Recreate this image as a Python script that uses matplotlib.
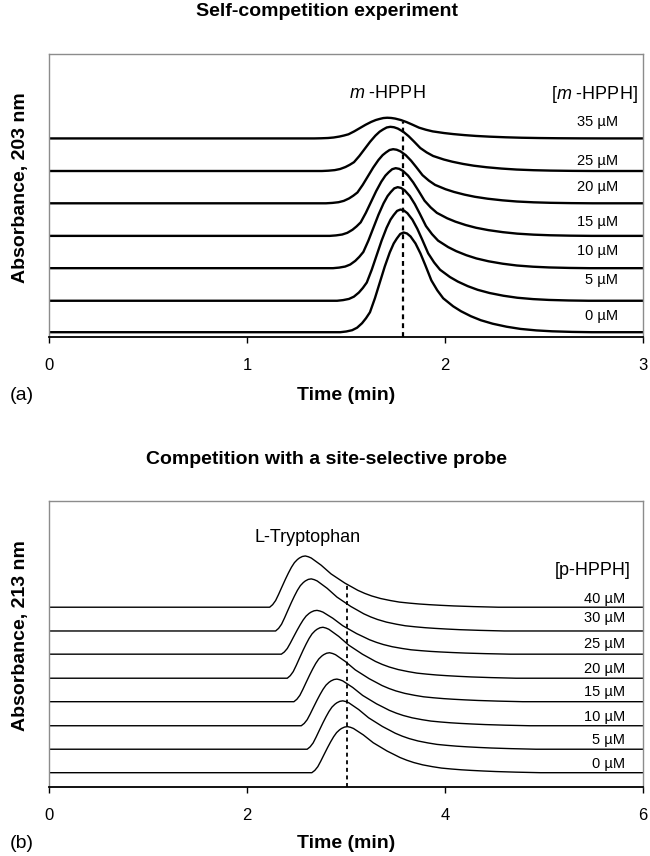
import numpy as np
import matplotlib
matplotlib.use("Agg")
import matplotlib.pyplot as plt

plt.rcParams["font.family"] = ["Liberation Sans", "DejaVu Sans"]
plt.rcParams["mathtext.fontset"] = "custom"
plt.rcParams["mathtext.it"] = "Liberation Sans:italic"
plt.rcParams["mathtext.rm"] = "Liberation Sans"

# ---- panel (a): self-competition, m-HPPH peak ----
conc_a = ["0", "5", "10", "15", "20", "25", "35"]
baseline_a = [1.8, 12.9, 24.4, 35.8, 47.3, 58.7, 70.2]
height_a = [35.2, 32.2, 28.6, 23.9, 19.1, 15.6, 7.3]
peak_time_a = [1.791, 1.775, 1.761, 1.751, 1.738, 1.724, 1.708]
width_a = [1.0, 1.0, 1.02, 1.04, 1.06, 1.08, 1.15]
# peak shape (min from apex, fraction of height)
shape_t_a = [-0.32, -0.29, -0.26, -0.235, -0.21, -0.19, -0.17, -0.145, -0.12, -0.095,
             -0.07, -0.05, -0.034, -0.017, 0.0, 0.017, 0.035, 0.06, 0.085, 0.11,
             0.14, 0.17, 0.20, 0.225, 0.25, 0.29, 0.34, 0.39, 0.45, 0.52,
             0.59, 0.67, 0.75, 0.85, 0.95]
shape_y_a = [0.0, 0.007, 0.02, 0.045, 0.09, 0.14, 0.20, 0.34, 0.50, 0.66,
             0.80, 0.89, 0.94, 0.985, 1.0, 0.99, 0.96, 0.89, 0.79, 0.67,
             0.52, 0.42, 0.34, 0.30, 0.26, 0.21, 0.16, 0.12, 0.085, 0.055,
             0.033, 0.018, 0.009, 0.003, 0.0]
dash_time_a = 1.79

# ---- panel (b): competition with L-tryptophan ----
conc_b = ["0", "5", "10", "15", "20", "25", "30", "40"]
baseline_b = [5.1, 13.3, 21.5, 29.9, 38.1, 46.5, 54.6, 62.9]
height_b = [16.1, 16.9, 16.3, 17.1, 17.8, 15.3, 18.2, 17.9]
peak_time_b = [3.015, 2.968, 2.908, 2.834, 2.767, 2.707, 2.649, 2.589]
shape_t_b = [-0.36, -0.33, -0.30, -0.27, -0.24, -0.20, -0.17, -0.14, -0.11, -0.08,
             -0.06, -0.03, 0.0, 0.03, 0.06, 0.11, 0.16, 0.21, 0.26, 0.33,
             0.40, 0.47, 0.53, 0.60, 0.67, 0.76, 0.86, 0.95, 1.05, 1.15,
             1.25, 1.37, 1.5, 1.7, 1.95]
shape_y_b = [0.0, 0.05, 0.13, 0.25, 0.38, 0.55, 0.67, 0.78, 0.87, 0.93,
             0.96, 0.99, 1.0, 0.985, 0.96, 0.89, 0.82, 0.735, 0.65, 0.56,
             0.47, 0.395, 0.33, 0.27, 0.22, 0.17, 0.13, 0.10, 0.08, 0.063,
             0.05, 0.037, 0.025, 0.012, 0.0]
dash_time_b = 3.01

# label heights (layout)
label_y_a = [7.5, 20.2, 30.5, 40.8, 53.2, 62.3, 76.1]
label_y_b = [8.0, 16.5, 24.7, 33.4, 41.2, 49.9, 59.0, 65.7]

W, H = 650, 856
fig = plt.figure(figsize=(W / 100, H / 100), dpi=100)


def fy(px):
    return 1 - px / H


def style_axes(ax, xmax, ticks):
    ax.set_xlim(0, xmax)
    ax.set_ylim(0, 100)
    ax.set_yticks([])
    ax.set_xticks(ticks)
    ax.set_xticklabels([str(t) for t in ticks])
    for s in ["top", "left", "right"]:
        ax.spines[s].set_color("#8c8c8c")
        ax.spines[s].set_linewidth(1.0)
    ax.spines["bottom"].set_color("black")
    ax.spines["bottom"].set_linewidth(1.3)
    ax.tick_params(axis="x", direction="out", length=4, width=1, pad=11, labelsize=12)


def draw_traces(ax, xmax, base, hgt, tpk, st, sy, widths, lw):
    for i in range(len(base)):
        w = widths[i] if widths is not None else 1.0
        x = [0.0] + [tpk[i] + t * w for t in st] + [xmax]
        y = [base[i]] + [base[i] + hgt[i] * v for v in sy] + [base[i]]
        ax.plot(x, y, color="black", lw=lw, solid_joinstyle="round")


# panel a
ax1 = fig.add_axes([49 / W, fy(337.3), 594 / W, 283.3 / H])
style_axes(ax1, 3, [0, 1, 2, 3])
draw_traces(ax1, 3, baseline_a, height_a, peak_time_a, shape_t_a, shape_y_a, width_a, 1.7)
ax1.plot([dash_time_a, dash_time_a], [0, 76], color="black", lw=1.6, ls=(0, (2.2, 1.8)))
ax1.text(1.708, 86.1, "$m$ -HPPH", ha="center", va="center", fontsize=13)
ax1.text(2.972, 85.8, "[$m$ -HPPH]", ha="right", va="center", fontsize=13)
for c, ly in zip(conc_a, label_y_a):
    ax1.text(2.873, ly, c + " \u00b5M", ha="right", va="center", fontsize=10.5)

fig.text(0.5 + 1.5 / W, fy(12), "Self-competition experiment", ha="center", va="center",
         fontsize=14, fontweight="bold")
fig.text(21 / W, fy(188), "Absorbance, 203 nm", rotation=90, ha="center", va="center",
         fontsize=14, fontweight="bold")
fig.text(346 / W, fy(395), "Time (min)", ha="center", va="center", fontsize=14, fontweight="bold")
fig.text(10 / W, fy(395), "(a)", ha="left", va="center", fontsize=14)

# panel b
ax2 = fig.add_axes([49 / W, fy(787.3), 594 / W, 286.3 / H])
style_axes(ax2, 6, [0, 2, 4, 6])
draw_traces(ax2, 6, baseline_b, height_b, peak_time_b, shape_t_b, shape_y_b, None, 1.0)
ax2.plot([dash_time_b, dash_time_b], [0, 71.3], color="black", lw=1.3, ls=(0, (2.2, 2.0)))
ax2.text(2.61, 87.3, "L-Tryptophan", ha="center", va="center", fontsize=13)
ax2.text(5.876, 75.7, "[p-HPPH]", ha="right", va="center", fontsize=13)
for c, ly in zip(conc_b, label_y_b):
    ax2.text(5.82, ly, c + " \u00b5M", ha="right", va="center", fontsize=10.5)

fig.text(0.5 + 1.5 / W, fy(459), "Competition with a site-selective probe", ha="center",
         va="center", fontsize=14, fontweight="bold")
fig.text(21 / W, fy(636), "Absorbance, 213 nm", rotation=90, ha="center", va="center",
         fontsize=14, fontweight="bold")
fig.text(346 / W, fy(843), "Time (min)", ha="center", va="center", fontsize=14, fontweight="bold")
fig.text(10 / W, fy(843), "(b)", ha="left", va="center", fontsize=14)

fig.savefig("out.png", dpi=100, facecolor="white")
